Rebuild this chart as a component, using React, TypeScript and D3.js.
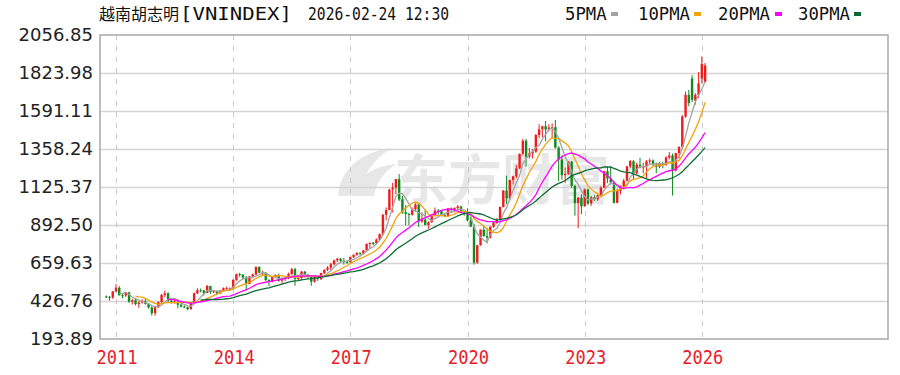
import React from "react";
import * as d3 from "d3";

// monthly candles: [month, open, high, low, close]
const candles: [string, number, number, number, number][] = [
  ["2010-10", 455, 461, 445, 452],
  ["2010-11", 452, 458, 430, 448],
  ["2010-12", 448, 488, 440, 485],
  ["2011-01", 485, 530, 482, 508],
  ["2011-02", 508, 518, 460, 462],
  ["2011-03", 462, 475, 443, 461],
  ["2011-04", 461, 483, 452, 480],
  ["2011-05", 480, 482, 415, 423],
  ["2011-06", 423, 440, 405, 432],
  ["2011-07", 432, 441, 400, 408],
  ["2011-08", 408, 425, 385, 417],
  ["2011-09", 417, 437, 410, 427],
  ["2011-10", 427, 440, 405, 410],
  ["2011-11", 410, 415, 380, 387],
  ["2011-12", 387, 395, 337, 352],
  ["2012-01", 352, 390, 336, 388],
  ["2012-02", 388, 425, 385, 420],
  ["2012-03", 420, 470, 415, 464],
  ["2012-04", 464, 490, 452, 474],
  ["2012-05", 474, 480, 420, 428],
  ["2012-06", 428, 442, 410, 422],
  ["2012-07", 422, 440, 410, 423],
  ["2012-08", 423, 440, 383, 404],
  ["2012-09", 404, 410, 388, 392],
  ["2012-10", 392, 400, 385, 388],
  ["2012-11", 388, 392, 372, 376],
  ["2012-12", 376, 415, 375, 414],
  ["2013-01", 414, 478, 412, 474],
  ["2013-02", 474, 505, 470, 493],
  ["2013-03", 493, 503, 480, 491],
  ["2013-04", 491, 495, 460, 476],
  ["2013-05", 476, 525, 474, 519],
  ["2013-06", 519, 520, 470, 481],
  ["2013-07", 481, 495, 475, 486],
  ["2013-08", 486, 490, 462, 473],
  ["2013-09", 473, 495, 470, 489],
  ["2013-10", 489, 510, 485, 505],
  ["2013-11", 505, 515, 495, 505],
  ["2013-12", 505, 510, 490, 505],
  ["2014-01", 505, 560, 500, 556],
  ["2014-02", 556, 595, 550, 591],
  ["2014-03", 591, 600, 575, 588],
  ["2014-04", 588, 592, 560, 570],
  ["2014-05", 570, 580, 495, 531],
  ["2014-06", 531, 580, 530, 578],
  ["2014-07", 578, 595, 570, 590],
  ["2014-08", 590, 640, 585, 635],
  ["2014-09", 635, 640, 598, 600],
  ["2014-10", 600, 612, 580, 600],
  ["2014-11", 600, 604, 550, 555],
  ["2014-12", 555, 560, 518, 546],
  ["2015-01", 546, 580, 540, 577],
  ["2015-02", 577, 590, 570, 586],
  ["2015-03", 586, 595, 545, 551],
  ["2015-04", 551, 570, 530, 563],
  ["2015-05", 563, 575, 550, 569],
  ["2015-06", 569, 600, 560, 592],
  ["2015-07", 592, 630, 585, 622],
  ["2015-08", 622, 630, 520, 562],
  ["2015-09", 562, 578, 550, 567],
  ["2015-10", 567, 610, 560, 607],
  ["2015-11", 607, 610, 570, 588],
  ["2015-12", 588, 590, 565, 579],
  ["2016-01", 579, 582, 520, 545],
  ["2016-02", 545, 575, 540, 573],
  ["2016-03", 573, 575, 550, 561],
  ["2016-04", 561, 600, 555, 598],
  ["2016-05", 598, 620, 590, 618],
  ["2016-06", 618, 640, 610, 632],
  ["2016-07", 632, 660, 615, 652],
  ["2016-08", 652, 680, 645, 676],
  ["2016-09", 676, 690, 665, 686],
  ["2016-10", 686, 690, 665, 673],
  ["2016-11", 673, 690, 650, 666],
  ["2016-12", 666, 675, 655, 665],
  ["2017-01", 665, 698, 660, 696],
  ["2017-02", 696, 712, 690, 710],
  ["2017-03", 710, 725, 705, 722],
  ["2017-04", 722, 725, 705, 717],
  ["2017-05", 717, 740, 710, 737],
  ["2017-06", 737, 780, 735, 776],
  ["2017-07", 776, 785, 750, 783],
  ["2017-08", 783, 790, 770, 781],
  ["2017-09", 781, 810, 775, 804],
  ["2017-10", 804, 840, 800, 837],
  ["2017-11", 837, 960, 830, 955],
  ["2017-12", 955, 1000, 920, 984],
  ["2018-01", 984, 1115, 984, 1110],
  ["2018-02", 1110, 1150, 970, 1121],
  ["2018-03", 1121, 1175, 1080, 1174],
  ["2018-04", 1174, 1204, 1040, 1050],
  ["2018-05", 1050, 1070, 960, 971],
  ["2018-06", 971, 1015, 890, 960],
  ["2018-07", 960, 965, 890, 955],
  ["2018-08", 955, 1000, 950, 989],
  ["2018-09", 989, 1025, 975, 1018],
  ["2018-10", 1018, 1020, 880, 914],
  ["2018-11", 914, 970, 905, 926],
  ["2018-12", 926, 985, 890, 893],
  ["2019-01", 893, 915, 870, 910],
  ["2019-02", 910, 960, 905, 951],
  ["2019-03", 951, 1000, 945, 980],
  ["2019-04", 980, 990, 955, 979],
  ["2019-05", 979, 985, 945, 955],
  ["2019-06", 955, 965, 940, 949],
  ["2019-07", 949, 995, 945, 994],
  ["2019-08", 994, 1000, 965, 985],
  ["2019-09", 985, 1000, 970, 996],
  ["2019-10", 996, 1015, 985, 1006],
  ["2019-11", 1006, 1010, 965, 970],
  ["2019-12", 970, 975, 950, 961],
  ["2020-01", 961, 995, 915, 920],
  ["2020-02", 920, 945, 880, 882],
  ["2020-03", 882, 900, 650, 662],
  ["2020-04", 662, 770, 655, 769],
  ["2020-05", 769, 865, 765, 864],
  ["2020-06", 864, 890, 820, 825],
  ["2020-07", 825, 875, 780, 816],
  ["2020-08", 816, 885, 810, 882],
  ["2020-09", 882, 910, 875, 905],
  ["2020-10", 905, 935, 900, 926],
  ["2020-11", 926, 1005, 920, 1003],
  ["2020-12", 1003, 1105, 1000, 1104],
  ["2021-01", 1104, 1195, 1020, 1056],
  ["2021-02", 1056, 1170, 1050, 1168],
  ["2021-03", 1168, 1195, 1140, 1191],
  ["2021-04", 1191, 1260, 1180, 1239],
  ["2021-05", 1239, 1330, 1235, 1329],
  ["2021-06", 1329, 1420, 1320, 1409],
  ["2021-07", 1409, 1420, 1250, 1311],
  ["2021-08", 1311, 1365, 1300, 1331],
  ["2021-09", 1331, 1358, 1300, 1342],
  ["2021-10", 1342, 1450, 1335, 1444],
  ["2021-11", 1444, 1510, 1425, 1479],
  ["2021-12", 1479, 1500, 1430, 1498],
  ["2022-01", 1498, 1530, 1405, 1478],
  ["2022-02", 1478, 1510, 1465, 1490],
  ["2022-03", 1490, 1515, 1425, 1492],
  ["2022-04", 1492, 1536, 1360, 1367],
  ["2022-05", 1367, 1375, 1160, 1293],
  ["2022-06", 1293, 1320, 1170, 1198],
  ["2022-07", 1198, 1245, 1150, 1206],
  ["2022-08", 1206, 1285, 1200, 1280],
  ["2022-09", 1280, 1285, 1120, 1132],
  ["2022-10", 1132, 1140, 950, 1027],
  ["2022-11", 1027, 1065, 873, 1060],
  ["2022-12", 1060, 1080, 960, 1007],
  ["2023-01", 1007, 1115, 1005, 1111],
  ["2023-02", 1111, 1115, 1015, 1025],
  ["2023-03", 1025, 1070, 1010, 1064],
  ["2023-04", 1064, 1075, 1040, 1050],
  ["2023-05", 1050, 1080, 1040, 1075],
  ["2023-06", 1075, 1130, 1070, 1121],
  ["2023-07", 1121, 1225, 1120, 1222],
  ["2023-08", 1222, 1250, 1150, 1177],
  ["2023-09", 1177, 1255, 1140, 1154],
  ["2023-10", 1154, 1160, 1025, 1028],
  ["2023-11", 1028, 1115, 1025, 1102],
  ["2023-12", 1102, 1135, 1080, 1130],
  ["2024-01", 1130, 1175, 1110, 1164],
  ["2024-02", 1164, 1255, 1160, 1252],
  ["2024-03", 1252, 1290, 1240, 1284],
  ["2024-04", 1284, 1290, 1170, 1210],
  ["2024-05", 1210, 1275, 1205, 1262],
  ["2024-06", 1262, 1305, 1240, 1245],
  ["2024-07", 1245, 1275, 1210, 1252],
  ["2024-08", 1252, 1290, 1180, 1283],
  ["2024-09", 1283, 1300, 1265, 1288],
  ["2024-10", 1288, 1295, 1255, 1264],
  ["2024-11", 1264, 1275, 1210, 1250],
  ["2024-12", 1250, 1280, 1240, 1267],
  ["2025-01", 1267, 1280, 1240, 1262],
  ["2025-02", 1262, 1315, 1255, 1306],
  ["2025-03", 1306, 1340, 1295, 1318],
  ["2025-04", 1318, 1330, 1073, 1227],
  ["2025-05", 1227, 1335, 1220, 1333],
  ["2025-06", 1333, 1375, 1300, 1371],
  ["2025-07", 1371, 1566, 1360, 1557],
  ["2025-08", 1557, 1711, 1550, 1690],
  ["2025-09", 1690, 1720, 1620, 1640],
  ["2025-10", 1790, 1810, 1645, 1660],
  ["2025-11", 1655, 1700, 1630, 1690],
  ["2025-12", 1690, 1830, 1670, 1760],
  ["2026-01", 1790, 1925, 1760, 1880],
  ["2026-02", 1770, 1885, 1765, 1870],
];

const yTicks = [193.89, 426.76, 659.63, 892.5, 1125.37, 1358.24, 1591.11, 1823.98, 2056.85];
const yearTicks = ["2011", "2014", "2017", "2020", "2023", "2026"];

const maPeriods = [5, 10, 20, 30];
const maNames = ["5PMA", "10PMA", "20PMA", "30PMA"];
const maColors = ["#a3a3a3", "#f0a30a", "#ff00ff", "#0c6b34"];

const W = 900;
const H = 375;
const M = { LEFT: 100, RIGHT: 888, TOP: 35, BOTTOM: 339 };

// months counted from Jan 2011
const monthIndex = (s: string) => {
  const [y, m] = s.split("-").map(Number);
  return (y - 2011) * 12 + (m - 1);
};

const movingAverage = (closes: number[], n: number) =>
  closes.map((_, i) => (i < n - 1 ? null : d3.mean(closes.slice(i - n + 1, i + 1))!));

const App = () => {
  const x = d3.scaleLinear().domain([-4.92, 237.2]).range([M.LEFT, M.RIGHT]);
  const y = d3.scaleLinear().domain([yTicks[0], yTicks[yTicks.length - 1]]).range([M.BOTTOM, M.TOP]);

  const closes = candles.map((d) => d[4]);
  const bodyW = 2.4;

  const lines = maPeriods.map((n) => {
    const ma = movingAverage(closes, n);
    const line = d3
      .line<number | null>()
      .defined((v) => v !== null)
      .x((_, i) => x(monthIndex(candles[i][0])))
      .y((v) => y(v as number));
    return line(ma) || "";
  });

  const red = "#f01c1c";
  const green = "#0f8a1e";

  // legend layout (text start, swatch start)
  const legendPos = [
    [565, 611],
    [638, 694],
    [718, 775],
    [798, 854],
  ];

  return (
    <svg
      width={W}
      height={H}
      style={{ position: "absolute", left: 0, top: 0, background: "#fff" }}
    >
      {/* title */}
      <text x={99} y={20} fontFamily="Noto Sans CJK SC" fontSize={16} fill="#111">
        越南胡志明
      </text>
      <text
        x={180}
        y={20}
        fontFamily="DejaVu Sans Mono"
        fontSize={18}
        fill="#111"
        textLength={112}
        lengthAdjust="spacingAndGlyphs"
      >
        [VNINDEX]
      </text>
      <text
        x={308}
        y={20}
        fontFamily="DejaVu Sans Mono"
        fontSize={18}
        fill="#111"
        textLength={141}
        lengthAdjust="spacingAndGlyphs"
      >
        2026-02-24 12:30
      </text>

      {/* legend */}
      {maNames.map((name, i) => (
        <g key={name}>
          <text
            x={legendPos[i][0]}
            y={20}
            fontFamily="DejaVu Sans Mono"
            fontSize={18}
            fill="#111"
            textLength={name.length * 10.4}
            lengthAdjust="spacingAndGlyphs"
          >
            {name}
          </text>
          <rect x={legendPos[i][1]} y={12} width={7} height={4} fill={maColors[i]} />
        </g>
      ))}

      {/* watermark */}
      <g opacity={0.09} fill="#000">
        <path d="M338,196 C340,170 360,152 392,148 C372,160 362,176 360,196 Z" />
        <path d="M352,196 C356,178 372,166 396,164 C382,174 376,184 374,196 Z" />
        <text x={394} y={200} fontFamily="Noto Sans CJK SC" fontWeight="bold" fontSize={54}>
          东方财富
        </text>
      </g>

      {/* horizontal grid */}
      {yTicks.slice(1, -1).map((t) => (
        <line
          key={t}
          x1={M.LEFT}
          x2={M.RIGHT}
          y1={Math.round(y(t)) + 0.5}
          y2={Math.round(y(t)) + 0.5}
          stroke="#d4d4d4"
          strokeWidth={1.5}
        />
      ))}

      {/* vertical dashed grid */}
      {yearTicks.map((yr) => {
        const xx = Math.round(x(monthIndex(`${yr}-01`))) + 0.5;
        return (
          <line
            key={yr}
            x1={xx}
            x2={xx}
            y1={M.TOP}
            y2={M.BOTTOM}
            stroke="#c8c8c8"
            strokeWidth={1}
            strokeDasharray="5,6"
          />
        );
      })}

      {/* y labels */}
      {yTicks.map((t) => (
        <text
          key={t}
          x={93}
          y={y(t)}
          dy="0.36em"
          textAnchor="end"
          fontFamily="DejaVu Sans"
          fontSize={18}
          fill="#222"
        >
          {t.toFixed(2)}
        </text>
      ))}

      {/* x labels */}
      {yearTicks.map((yr) => (
        <text
          key={yr}
          x={x(monthIndex(`${yr}-01`)) + 1}
          y={364}
          textAnchor="middle"
          fontFamily="DejaVu Sans Mono"
          fontSize={19}
          fill="#e8202a"
          textLength={41}
          lengthAdjust="spacingAndGlyphs"
        >
          {yr}
        </text>
      ))}

      {/* candles */}
      {candles.map(([m, o, h, l, c]) => {
        const cx = x(monthIndex(m));
        const col = c >= o ? red : green;
        const top = y(Math.max(o, c));
        const bot = y(Math.min(o, c));
        return (
          <g key={m}>
            <line x1={cx} x2={cx} y1={y(h)} y2={y(l)} stroke={col} strokeWidth={1} />
            <rect
              x={cx - bodyW / 2}
              y={top}
              width={bodyW}
              height={Math.max(1, bot - top)}
              fill={col}
            />
          </g>
        );
      })}

      {/* moving averages */}
      {lines.map((d, i) => (
        <path key={maNames[i]} d={d} fill="none" stroke={maColors[i]} strokeWidth={1.3} />
      ))}

      {/* plot border */}
      <rect
        x={M.LEFT}
        y={M.TOP}
        width={M.RIGHT - M.LEFT}
        height={M.BOTTOM - M.TOP}
        fill="none"
        stroke="#a8a8a8"
        strokeWidth={1.5}
      />
    </svg>
  );
};

export default App;
